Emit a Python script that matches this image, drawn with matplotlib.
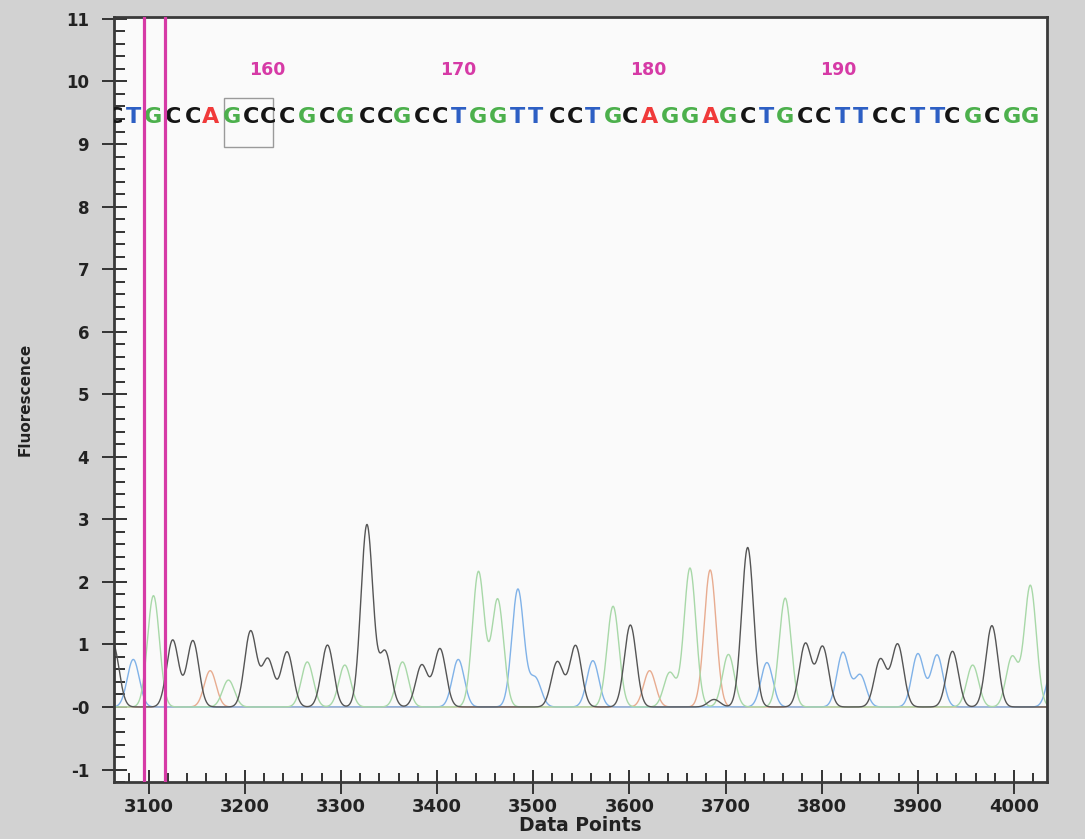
import numpy as np
import matplotlib

matplotlib.use("Agg")
import matplotlib.pyplot as plt
from matplotlib.patches import Rectangle
from matplotlib.ticker import MultipleLocator

# base calls (positions 152..200) and where each one sits on the data-point axis
bases = list("CTGCCAGCCCGCGCCGCCTGGTTCCTGCAGGAGCTGCCTTCCTTCGCGG")
base_x = [3065, 3084, 3105, 3125, 3146, 3164, 3187, 3206, 3224, 3244,
          3265, 3286, 3304, 3327, 3346, 3364, 3384, 3403, 3422, 3443,
          3463, 3484, 3502, 3525, 3544, 3562, 3583, 3601, 3621, 3642,
          3663, 3684, 3703, 3723, 3743, 3762, 3783, 3801, 3822, 3840,
          3861, 3879, 3900, 3920, 3936, 3957, 3977, 3998, 4017]
pos_labels = [160, 170, 180, 190]
pos_label_x = [3223, 3422, 3620, 3817]

# peak positions / heights
c_pos = [3063, 3125, 3146, 3206, 3224, 3244, 3286, 3327, 3346, 3384, 3403,
         3525, 3544, 3601, 3688, 3723, 3783, 3801, 3861, 3879, 3936, 3977]
c_ht = [1.00, 1.07, 1.06, 1.21, 0.76, 0.88, 0.99, 2.91, 0.88, 0.67, 0.93,
        0.72, 0.98, 1.31, 0.12, 2.55, 1.01, 0.96, 0.76, 1.00, 0.89, 1.30]
g_pos = [3105, 3183, 3265, 3304, 3364, 3443, 3463, 3583, 3642, 3663, 3703,
         3762, 3957, 3998, 4017]
g_ht = [1.78, 0.43, 0.72, 0.67, 0.72, 2.16, 1.72, 1.61, 0.55, 2.22, 0.84,
        1.74, 0.67, 0.80, 1.94]
t_pos = [3084, 3422, 3484, 3502, 3562, 3743, 3822, 3840, 3900, 3920, 4041]
t_ht = [0.76, 0.76, 1.88, 0.46, 0.74, 0.71, 0.87, 0.51, 0.85, 0.83, 0.70]
a_pos = [3164, 3621, 3684]
a_ht = [0.58, 0.58, 2.19]

cursor_x = [3095, 3117.5]
box_x = (3178.7, 3229.6)
box_y = (8.96, 9.74)

BASE_COLORS = {"C": "#151515", "T": "#2d5fc4", "G": "#4cb04c", "A": "#f03a3a"}
TRACE_COLORS = {"C": "#555555", "G": "#a8d8a8", "T": "#80b2e8", "A": "#e8ac90"}
MAGENTA = "#d63aa6"


def trace(x, pos, ht, sigma=6.2):
    y = np.zeros_like(x)
    for p, h in zip(pos, ht):
        y += h * np.exp(-0.5 * ((x - p) / sigma) ** 2)
    return y


fig = plt.figure(figsize=(10.85, 8.39), dpi=100, facecolor="#d2d2d2")
ax = fig.add_axes([0.1051, 0.0679, 0.8596, 0.9118])
ax.set_facecolor("#fafafa")

x = np.linspace(3030, 4070, 4000)
for key, pos, ht in [("A", a_pos, a_ht), ("T", t_pos, t_ht),
                     ("G", g_pos, g_ht), ("C", c_pos, c_ht)]:
    ax.plot(x, trace(x, pos, ht), color=TRACE_COLORS[key], lw=1.0)

for cx in cursor_x:
    ax.axvline(cx, color=MAGENTA, lw=2.3, zorder=5)

for b, bx in zip(bases, base_x):
    ax.text(bx, 9.43, b, color=BASE_COLORS[b], fontsize=16, fontweight="bold",
            ha="center", va="center", family="DejaVu Sans", clip_on=True)
for lab, lx in zip(pos_labels, pos_label_x):
    ax.text(lx, 10.19, str(lab), color=MAGENTA, fontsize=12.5, fontweight="bold",
            ha="center", va="center", family="DejaVu Sans")

ax.add_patch(Rectangle((box_x[0], box_y[0]), box_x[1] - box_x[0], box_y[1] - box_y[0],
                       fill=False, edgecolor="#9a9a9a", lw=1.0))

ax.set_xlim(3064, 4034)
ax.set_ylim(-1.2, 11.03)

yt = list(range(-1, 12))
ax.set_yticks(yt)
ax.set_yticklabels(["-0" if v == 0 else str(v) for v in yt])
ax.set_xticks(range(3100, 4001, 100))
ax.xaxis.set_minor_locator(MultipleLocator(20))
ax.yaxis.set_minor_locator(MultipleLocator(0.2))

ax.tick_params(axis="y", which="major", direction="inout", length=18, width=1.4,
               color="#333333", pad=9, labelsize=12)
ax.tick_params(axis="y", which="minor", direction="in", length=8, width=1.4,
               color="#333333")
ax.tick_params(axis="x", which="major", direction="inout", length=17, width=1.4,
               color="#333333", pad=3, labelsize=13)
ax.tick_params(axis="x", which="minor", direction="in", length=6.5, width=1.4,
               color="#333333")
for lab in ax.get_xticklabels() + ax.get_yticklabels():
    lab.set_fontweight("bold")
    lab.set_color("#222222")

for sp in ax.spines.values():
    sp.set_linewidth(2)
    sp.set_color("#3a3a3a")

ax.set_xlabel("Data Points", fontsize=13.5, fontweight="bold", color="#222222", labelpad=0)
ax.set_ylabel("Fluorescence", fontsize=11, fontweight="bold", color="#222222", labelpad=24)

fig.savefig("out.png", dpi=100, facecolor=fig.get_facecolor())
